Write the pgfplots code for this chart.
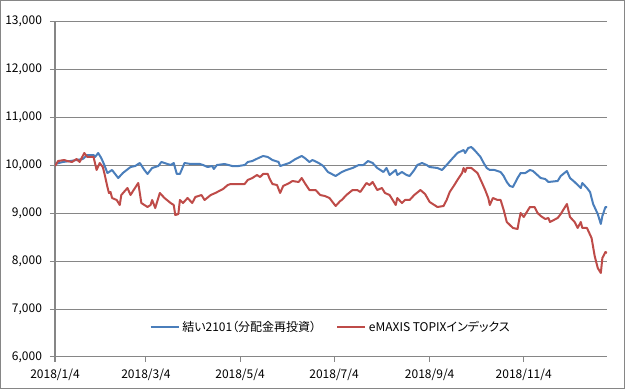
\documentclass[border=0pt]{standalone}
\usepackage{pgfplots}
\pgfplotsset{compat=1.18}
\usepackage{pgfplotstable}
\usepackage{fontspec}
\setmainfont{Noto Sans CJK JP}[RawFeature=+palt]
\definecolor{ser1}{HTML}{4A7EBB}
\definecolor{ser2}{HTML}{BE4B48}
\definecolor{gridc}{HTML}{868686}

\pgfplotstableread{
d v
0 10020
5 10063
10 10083
14 10104
18 10125
21 10208
25 10208
26 10167
28 10250
30 10146
32 10000
34 9833
37 9896
41 9729
44 9833
49 9958
52 9979
55 10042
58 9896
60 9813
63 9938
67 9979
69 10063
71 10042
75 10000
77 10042
79 9813
81 9813
84 10042
88 10021
94 10021
96 10000
99 9958
102 9979
103 9917
105 10000
110 10021
115 9979
119 9979
123 10000
125 10063
128 10083
132 10146
135 10188
138 10167
141 10104
145 10063
146 9979
148 10000
152 10042
156 10125
160 10188
162 10146
165 10063
167 10104
171 10042
174 9979
177 9854
182 9771
185 9833
186 9854
189 9896
193 9938
197 10000
200 10000
203 10083
206 10042
209 9938
213 9854
215 9938
217 9792
221 9896
222 9792
225 9854
228 9792
230 9771
233 9896
235 10000
238 10042
241 10000
243 9958
248 9938
251 9896
254 10000
258 10146
261 10250
265 10313
266 10250
268 10354
270 10375
272 10313
276 10167
278 10042
280 9938
282 9896
285 9896
289 9854
291 9771
293 9646
295 9563
297 9542
300 9729
302 9833
305 9833
308 9896
310 9875
315 9729
318 9708
320 9646
326 9667
328 9771
332 9875
334 9729
337 9646
341 9521
342 9625
345 9521
347 9438
349 9188
352 8979
354 8771
355 8938
357 9125
358 9125
}\yui

\pgfplotstableread{
d v
0 9979
2 10083
6 10104
8 10083
11 10063
14 10125
16 10063
19 10250
21 10167
25 10167
27 9896
29 10042
31 9958
32 9833
34 9542
35 9417
36 9438
37 9313
40 9271
42 9167
43 9375
47 9521
49 9375
51 9479
54 9625
56 9208
60 9125
62 9167
63 9271
65 9104
68 9417
71 9313
75 9208
77 9167
78 8958
80 8979
81 9271
83 9208
86 9313
89 9208
91 9333
95 9375
97 9271
101 9375
104 9417
109 9500
112 9583
114 9604
117 9604
123 9604
125 9688
128 9729
131 9792
133 9750
135 9813
138 9813
139 9729
141 9604
144 9583
146 9417
148 9563
152 9625
154 9667
158 9646
160 9729
162 9625
165 9479
169 9479
172 9375
175 9354
178 9313
182 9146
185 9250
186 9271
189 9375
193 9479
196 9479
198 9438
202 9625
204 9583
206 9646
209 9479
212 9521
214 9417
217 9375
221 9167
222 9313
225 9208
227 9271
230 9271
233 9375
237 9479
240 9396
243 9229
246 9167
248 9125
252 9146
254 9271
256 9438
259 9583
261 9688
264 9833
265 9938
266 9854
267 9938
270 9938
274 9833
277 9625
279 9479
281 9313
282 9167
284 9313
287 9271
289 9271
291 9063
293 8813
297 8688
300 8667
301 8854
302 9000
304 8917
308 9125
311 9125
313 9000
315 8938
318 8875
320 8896
321 8813
326 8896
328 8979
332 9188
334 8917
337 8813
339 8688
341 8813
342 8688
345 8688
348 8479
350 8104
352 7854
354 7750
355 8063
357 8188
358 8167
}\topix

\begin{document}
\begin{tikzpicture}
\useasboundingbox (0,0) rectangle (468.75pt,291.75pt);
\draw[gridc, line width=0.75pt] (0.375pt,0.375pt) rectangle (468.375pt,291.375pt);
\begin{axis}[
  at={(41.25pt,24pt)}, anchor=south west,
  scale only axis, width=414pt, height=252pt,
  xmin=0, xmax=358, ymin=6000, ymax=13000,
  xtick={0,59,120,181,243,304},
  xticklabels={2018/1/4,2018/3/4,2018/5/4,2018/7/4,2018/9/4,2018/11/4},
  ytick={6000,7000,8000,9000,10000,11000,12000,13000},
  scaled y ticks=false,
  /pgf/number format/.cd, 1000 sep={,}, assume math mode=true, /pgfplots/.cd,
  axis x line*=bottom, axis y line*=left,
  axis line style={gridc, line width=0.75pt, -},
  tick align=outside, major tick length=3.75pt,
  tick style={gridc, line width=0.75pt},
  ymajorgrids, grid style={gridc, line width=0.75pt},
  ticklabel style={font=\fontsize{9}{10.5}\selectfont, text=black},
  yticklabel style={xshift=-2.5pt},
  xticklabel style={yshift=-2pt},
  legend style={at={(0.5,0.089)}, anchor=center, draw=none, fill=none,
    font=\fontsize{9}{10.5}\selectfont, legend columns=2,
    /tikz/every even column/.append style={column sep=13pt}},
  legend image code/.code={\draw[#1, line width=1.5pt] (0pt,0pt) -- (21pt,0pt);},
  legend cell align=left,
]
\addplot[ser1, line width=1.5pt, line join=round] table[x=d,y=v] {\yui};
\addlegendentry{結い2101（分配金再投資）}
\addplot[ser2, line width=1.5pt, line join=round] table[x=d,y=v] {\topix};
\addlegendentry{eMAXIS TOPIXインデックス}
\end{axis}
\end{tikzpicture}
\end{document}
